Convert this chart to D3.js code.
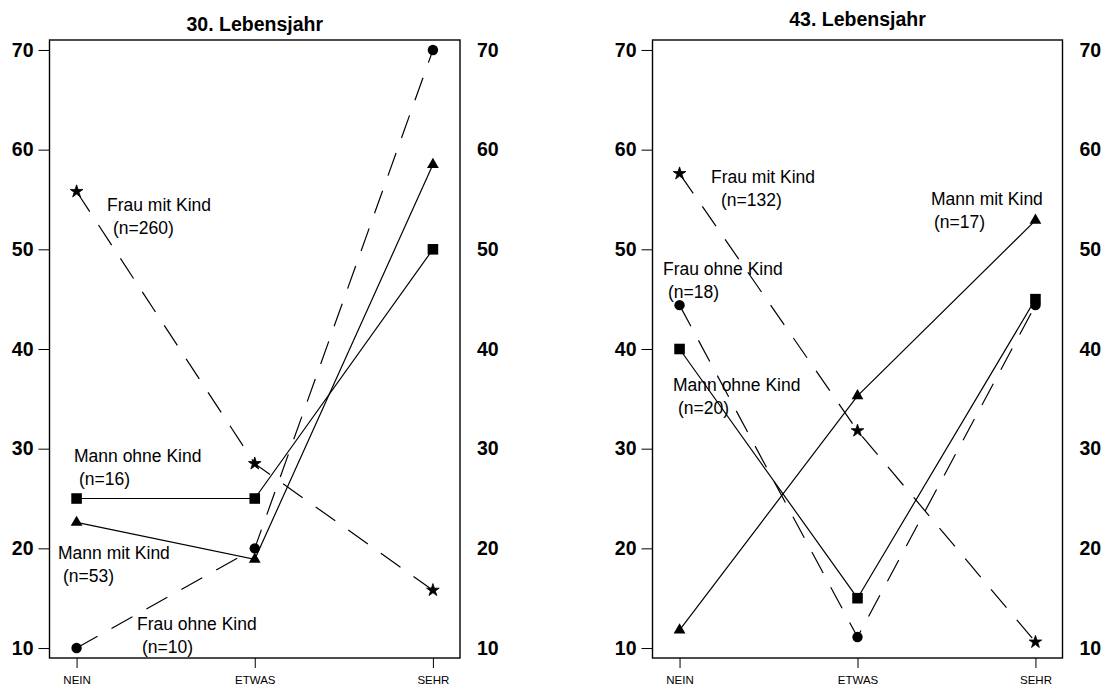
<!DOCTYPE html>
<html>
<head>
<meta charset="utf-8">
<script src="https://cdn.jsdelivr.net/npm/d3@7"></script>
<style>
  html, body { margin: 0; padding: 0; background: #fff; }
  svg { display: block; font-family: "Liberation Sans", Arial, sans-serif; }
</style>
</head>
<body>
<svg id="chart" width="1104" height="690"></svg>
<script>
// Answer categories on the x axis and y-axis tick values (percent)
const categories = ["NEIN", "ETWAS", "SEHR"];
const yTicks = [10, 20, 30, 40, 50, 60, 70];
const panelTitles = ["30. Lebensjahr", "43. Lebensjahr"];
const groupNames = ["Frau mit Kind", "Frau ohne Kind", "Mann ohne Kind", "Mann mit Kind"];

// Percentages per group at age 30
const age30FrauMitKind = [55.8, 28.5, 15.8];
const age30FrauOhneKind = [10, 20, 70];
const age30MannOhneKind = [25, 25, 50];
const age30MannMitKind = [22.6, 18.9, 58.5];
const age30N = [260, 10, 16, 53];

// Percentages per group at age 43
const age43FrauMitKind = [57.6, 31.8, 10.6];
const age43FrauOhneKind = [44.4, 11.1, 44.4];
const age43MannOhneKind = [40, 15, 45];
const age43MannMitKind = [11.8, 35.3, 52.9];
const age43N = [132, 18, 20, 17];

// Styling per group: marker shape and line type
const groupStyle = {
  "Frau mit Kind":  { symbol: "star",     dashed: true },
  "Frau ohne Kind": { symbol: "circle",   dashed: true },
  "Mann ohne Kind": { symbol: "square",   dashed: false },
  "Mann mit Kind":  { symbol: "triangle", dashed: false }
};

const panels = [
  {
    title: panelTitles[0], titleY: 31, x0: 49.5, x1: 460,
    series: [age30FrauMitKind, age30FrauOhneKind, age30MannOhneKind, age30MannMitKind],
    n: age30N,
    // label anchors (left x, baseline y of first line), second line offset
    labels: [
      { x: 107, y: 211, dx2: 6 },
      { x: 137, y: 630, dx2: 5 },
      { x: 74,  y: 462, dx2: 5 },
      { x: 58,  y: 559, dx2: 5 }
    ]
  },
  {
    title: panelTitles[1], titleY: 26, x0: 652.5, x1: 1062.5,
    series: [age43FrauMitKind, age43FrauOhneKind, age43MannOhneKind, age43MannMitKind],
    n: age43N,
    labels: [
      { x: 711, y: 183, dx2: 10 },
      { x: 663, y: 275, dx2: 5 },
      { x: 673, y: 391, dx2: 5 },
      { x: 931, y: 205, dx2: 3 }
    ]
  }
];

const plotTop = 40, plotBottom = 658;
const svg = d3.select("#chart");

const y = d3.scaleLinear().domain([9, 71]).range([plotBottom, plotTop]);

function drawSymbol(g, kind, cx, cy) {
  if (kind === "circle") {
    g.append("circle").attr("cx", cx).attr("cy", cy).attr("r", 5.2).attr("fill", "#000");
  } else {
    const type = kind === "square" ? d3.symbolSquare
               : kind === "triangle" ? d3.symbolTriangle
               : d3.symbolStar;
    const size = kind === "square" ? 112 : kind === "triangle" ? 60 : 50;
    g.append("path")
      .attr("d", d3.symbol().type(type).size(size)())
      .attr("transform", `translate(${cx},${cy})`)
      .attr("fill", "#000")
      .attr("stroke", kind === "star" ? "#000" : null)
      .attr("stroke-width", kind === "star" ? 0.8 : null);
  }
}

panels.forEach(p => {
  const g = svg.append("g");
  const x = d3.scalePoint().domain(categories).range([p.x0, p.x1]).padding(0.152);

  // title
  g.append("text")
    .attr("x", (p.x0 + p.x1) / 2).attr("y", p.titleY)
    .attr("text-anchor", "middle")
    .attr("font-size", 19.5).attr("font-weight", "bold")
    .text(p.title);

  // left axis with ticks
  const left = g.append("g").attr("transform", `translate(${p.x0},0)`)
    .call(d3.axisLeft(y).tickValues(yTicks).tickSize(11).tickPadding(5).tickFormat(d3.format("d")));
  left.select(".domain").remove();
  left.selectAll("line").attr("stroke", "#000").attr("stroke-width", 1);
  left.selectAll("text").attr("font-size", 19.5).attr("font-weight", "bold")
    .attr("font-family", "Liberation Sans, Arial, sans-serif").attr("fill", "#000");

  // right axis, labels only
  const right = g.append("g").attr("transform", `translate(${p.x1},0)`)
    .call(d3.axisRight(y).tickValues(yTicks).tickSize(0).tickPadding(17).tickFormat(d3.format("d")));
  right.select(".domain").remove();
  right.selectAll("text").attr("font-size", 19.5).attr("font-weight", "bold")
    .attr("font-family", "Liberation Sans, Arial, sans-serif").attr("fill", "#000");

  // bottom axis
  const bot = g.append("g").attr("transform", `translate(0,${plotBottom})`)
    .call(d3.axisBottom(x).tickSize(10).tickPadding(8));
  bot.select(".domain").remove();
  bot.selectAll("line").attr("stroke", "#000").attr("stroke-width", 1);
  bot.selectAll("text").attr("font-size", 11.5).attr("font-family", "Liberation Sans, Arial, sans-serif")
    .attr("fill", "#000");

  // plot frame
  g.append("rect")
    .attr("x", p.x0).attr("y", plotTop)
    .attr("width", p.x1 - p.x0).attr("height", plotBottom - plotTop)
    .attr("fill", "none").attr("stroke", "#000").attr("stroke-width", 1.4);

  const line = d3.line().x((d, i) => x(categories[i])).y(d => y(d));

  p.series.forEach((vals, k) => {
    const style = groupStyle[groupNames[k]];
    g.append("path")
      .attr("d", line(vals))
      .attr("fill", "none").attr("stroke", "#000").attr("stroke-width", 1.2)
      .attr("stroke-dasharray", style.dashed ? "24,16" : null);
    vals.forEach((v, i) => drawSymbol(g, style.symbol, x(categories[i]), y(v)));

    const lab = p.labels[k];
    g.append("text").attr("x", lab.x).attr("y", lab.y)
      .attr("font-size", 17.5).text(groupNames[k]);
    g.append("text").attr("x", lab.x + lab.dx2).attr("y", lab.y + 22.5)
      .attr("font-size", 17.5).text(`(n=${p.n[k]})`);
  });
});
</script>
</body>
</html>
